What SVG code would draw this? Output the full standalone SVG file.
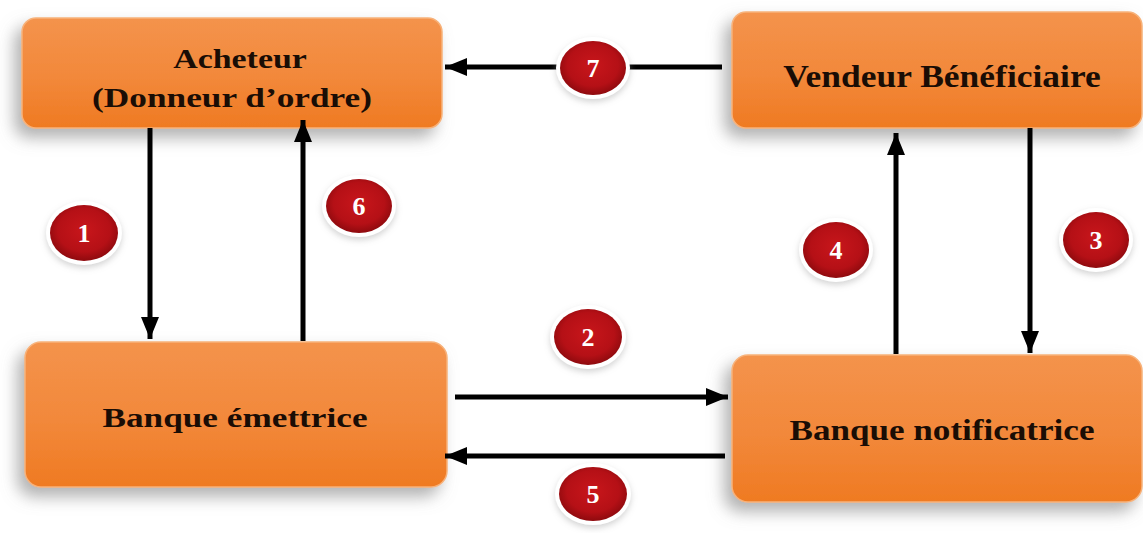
<svg xmlns="http://www.w3.org/2000/svg" width="1143" height="533" viewBox="0 0 1143 533">
  <defs>
    <linearGradient id="boxFill" x1="0" y1="0" x2="0" y2="1">
      <stop offset="0" stop-color="#F4934C"/>
      <stop offset="0.55" stop-color="#F2883A"/>
      <stop offset="1" stop-color="#EF7A22"/>
    </linearGradient>
    <radialGradient id="badgeFill" cx="0.5" cy="0.45" r="0.55">
      <stop offset="0" stop-color="#C8161B"/>
      <stop offset="0.7" stop-color="#B51016"/>
      <stop offset="1" stop-color="#8E0A0E"/>
    </radialGradient>
    <filter id="boxShadow" x="-10%" y="-25%" width="120%" height="160%">
      <feGaussianBlur in="SourceAlpha" stdDeviation="8"/>
      <feOffset dx="-7" dy="9" result="blur"/>
      <feFlood flood-color="#888888" flood-opacity="0.65"/>
      <feComposite in2="blur" operator="in"/>
      <feMerge>
        <feMergeNode/>
        <feMergeNode in="SourceGraphic"/>
      </feMerge>
    </filter>
    <filter id="badgeShadow" x="-30%" y="-30%" width="160%" height="170%">
      <feGaussianBlur in="SourceAlpha" stdDeviation="3"/>
      <feOffset dx="0" dy="3" result="blur"/>
      <feFlood flood-color="#a0a0a0" flood-opacity="0.45"/>
      <feComposite in2="blur" operator="in"/>
      <feMerge>
        <feMergeNode/>
        <feMergeNode in="SourceGraphic"/>
      </feMerge>
    </filter>
    <marker id="head" markerUnits="userSpaceOnUse" markerWidth="24" markerHeight="20" refX="22" refY="9" orient="auto">
      <path d="M0,0 L22,9 L0,18 z" fill="#000"/>
    </marker>
    <style>
      .box { fill: url(#boxFill); stroke: #F7B27A; stroke-width: 1.5; filter: url(#boxShadow); }
      .label { font-family: "Liberation Serif", "Times New Roman", serif; font-weight: bold; fill: #1a0d05; text-anchor: middle; }
      .conn { stroke: #000; stroke-width: 5; fill: none; marker-end: url(#head); }
      .halo { fill: #ffffff; filter: url(#badgeShadow); }
      .disc { fill: url(#badgeFill); }
      .num { font-family: "Liberation Serif", "Times New Roman", serif; font-weight: bold; font-size: 26px; fill: #ffffff; text-anchor: middle; }
    </style>
  </defs>

  <rect width="1143" height="533" fill="#ffffff"/>

  <!-- Nodes: labels are set in a wide bold serif, widened horizontally -->
  <g id="acheteur">
    <rect class="box" x="22" y="18" width="420" height="110" rx="14"/>
    <text class="label" transform="translate(240,68) scale(1.25,1)" font-size="28" textLength="107" lengthAdjust="spacingAndGlyphs">Acheteur</text>
    <text class="label" transform="translate(232,107) scale(1.25,1)" font-size="28" textLength="224" lengthAdjust="spacingAndGlyphs">(Donneur d’ordre)</text>
  </g>
  <g id="vendeur">
    <rect class="box" x="732" y="12" width="410" height="116" rx="14"/>
    <text class="label" transform="translate(942,87) scale(1.25,1)" font-size="31" textLength="254" lengthAdjust="spacingAndGlyphs">Vendeur Bénéficiaire</text>
  </g>
  <g id="banque-emettrice">
    <rect class="box" x="25" y="342" width="422" height="145" rx="16"/>
    <text class="label" transform="translate(235,427) scale(1.25,1)" font-size="28" textLength="212" lengthAdjust="spacingAndGlyphs">Banque émettrice</text>
  </g>
  <g id="banque-notificatrice">
    <rect class="box" x="732" y="355" width="410" height="147" rx="16"/>
    <text class="label" transform="translate(942,440) scale(1.25,1)" font-size="30" textLength="244" lengthAdjust="spacingAndGlyphs">Banque notificatrice</text>
  </g>

  <!-- Connectors -->
  <g id="connectors">
    <line class="conn" x1="150" y1="128" x2="150" y2="339"/>
    <line class="conn" x1="303" y1="341" x2="303" y2="120"/>
    <line class="conn" x1="455" y1="397" x2="728" y2="397"/>
    <line class="conn" x1="1030" y1="128" x2="1030" y2="353"/>
    <line class="conn" x1="896" y1="354" x2="896" y2="133"/>
    <line class="conn" x1="725" y1="456" x2="445" y2="456"/>
    <line class="conn" x1="722" y1="67" x2="445" y2="67"/>
  </g>

  <!-- Step badges -->
  <g id="step-1">
    <ellipse class="halo" cx="84" cy="233" rx="38" ry="32"/>
    <ellipse class="disc" cx="84" cy="233" rx="34" ry="28"/>
    <text class="num" x="84" y="242">1</text>
  </g>
  <g id="step-2">
    <ellipse class="halo" cx="588" cy="337" rx="38" ry="32"/>
    <ellipse class="disc" cx="588" cy="337" rx="34" ry="28"/>
    <text class="num" x="588" y="346">2</text>
  </g>
  <g id="step-3">
    <ellipse class="halo" cx="1096" cy="240" rx="37" ry="32"/>
    <ellipse class="disc" cx="1096" cy="240" rx="33" ry="28"/>
    <text class="num" x="1096" y="249">3</text>
  </g>
  <g id="step-4">
    <ellipse class="halo" cx="836" cy="250" rx="37" ry="32"/>
    <ellipse class="disc" cx="836" cy="250" rx="33" ry="28"/>
    <text class="num" x="836" y="259">4</text>
  </g>
  <g id="step-5">
    <ellipse class="halo" cx="593" cy="494" rx="38" ry="31"/>
    <ellipse class="disc" cx="593" cy="494" rx="34" ry="27"/>
    <text class="num" x="593" y="503">5</text>
  </g>
  <g id="step-6">
    <ellipse class="halo" cx="359" cy="206" rx="37" ry="31"/>
    <ellipse class="disc" cx="359" cy="206" rx="33" ry="27"/>
    <text class="num" x="359" y="215">6</text>
  </g>
  <g id="step-7">
    <ellipse class="halo" cx="593" cy="68" rx="37" ry="31"/>
    <ellipse class="disc" cx="593" cy="68" rx="33" ry="27"/>
    <text class="num" x="593" y="77">7</text>
  </g>
</svg>
